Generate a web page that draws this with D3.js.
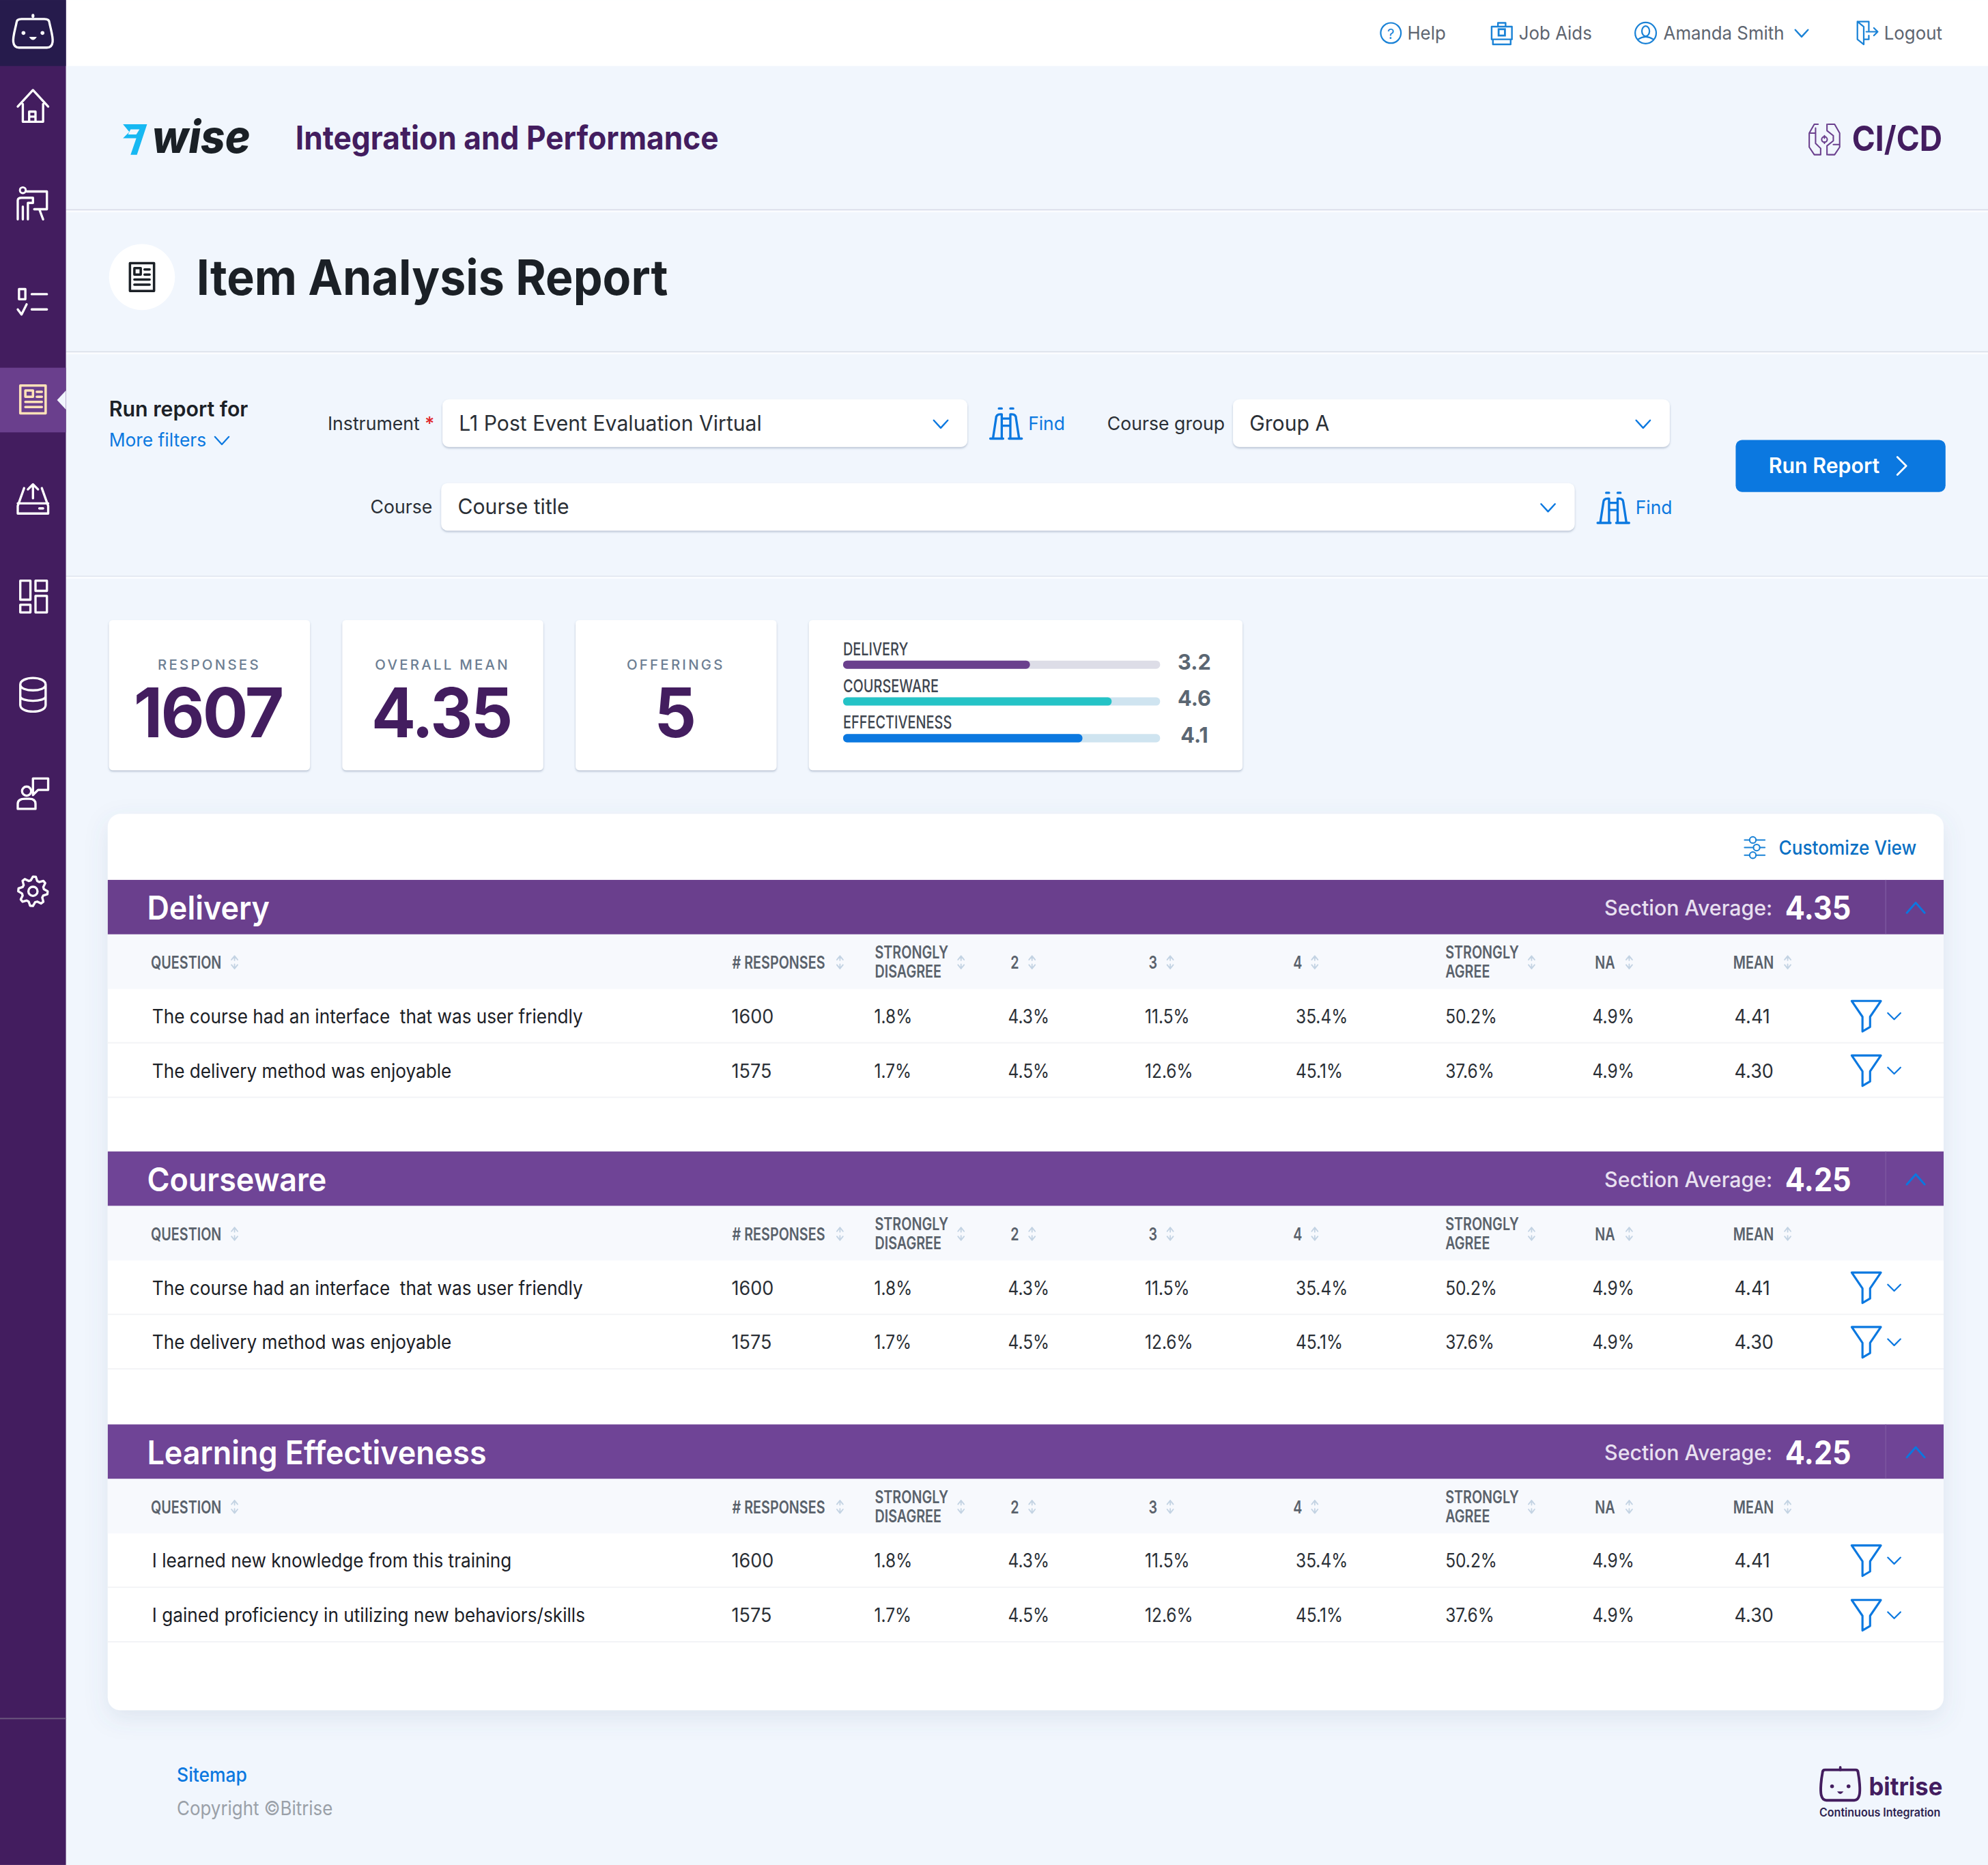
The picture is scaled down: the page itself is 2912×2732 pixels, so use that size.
<!DOCTYPE html>
<html><head><meta charset="utf-8">
<script src="https://cdn.jsdelivr.net/npm/d3@7/dist/d3.min.js"></script>
<style>
html,body{margin:0;padding:0;background:#f1f6fd;overflow:hidden}
svg{display:block}
text{font-family:Inter,"Noto Sans",sans-serif;white-space:pre}
</style></head><body>
<script>
// ---- data ----
const summaryLabels = ["RESPONSES","OVERALL MEAN","OFFERINGS"];
const summaryValues = ["1607","4.35","5"];
const scoreLabels = ["DELIVERY","COURSEWARE","EFFECTIVENESS"];
const scoreValues = [3.2,4.6,4.1];
const sectionTitles = ["Delivery","Courseware","Learning Effectiveness"];
const sectionAverages = [4.35,4.25,4.25];
const columnKeys = ["question","responses","sd","c2","c3","c4","sa","na","mean"];
const columnHeads = [["QUESTION"],["# RESPONSES"],["STRONGLY","DISAGREE"],["2"],["3"],["4"],["STRONGLY","AGREE"],["NA"],["MEAN"]];
const questionsDelivery = ["The course had an interface  that was user friendly","The delivery method was enjoyable"];
const questionsCourseware = ["The course had an interface  that was user friendly","The delivery method was enjoyable"];
const questionsLearning = ["I learned new knowledge from this training","I gained proficiency in utilizing new behaviors/skills"];
const rowResponses = [1600,1575];
const rowSD = [1.8,1.7];
const rowC2 = [4.3,4.5];
const rowC3 = [11.5,12.6];
const rowC4 = [35.4,45.1];
const rowSA = [50.2,37.6];
const rowNA = [4.9,4.9];
const rowMean = [4.41,4.30];
const navLabels = ["Help","Job Aids","Amanda Smith","Logout"];

// ---- palette ----
const PURPLE="#6a3f8d",DEEP="#431d5f",BLUE="#0b78e0",INK="#1b2026";

const svg=d3.select("body").append("svg").attr("width",2912).attr("height",2732).attr("viewBox","0 0 1568 1471");
const defs=svg.append("defs");
const shadow=(id,dy,b,o)=>{const f=defs.append("filter").attr("id",id).attr("x","-10%").attr("y","-10%").attr("width","120%").attr("height","125%");
  f.append("feDropShadow").attr("dx",0).attr("dy",dy).attr("stdDeviation",b).attr("flood-color","#5a6f90").attr("flood-opacity",o);};
shadow("sSmall",1,1,.4);shadow("sBig",6,9,.13);

function T(p,x,y,s,size,weight,fill,opt={}){
  const t=p.append("text").attr("x",x).attr("y",y).text(s).attr("font-size",size).attr("font-weight",weight).attr("fill",fill)
    .attr("text-anchor",opt.anchor||"start");
  if(opt.ls!==undefined)t.attr("letter-spacing",opt.ls);
  if(opt.italic)t.attr("font-style","italic");
  if(opt.squeeze){const n=t.node();const l=n.getComputedTextLength();n.setAttribute("textLength",l*opt.squeeze);n.setAttribute("lengthAdjust","spacingAndGlyphs");}
  return t;
}
function R(p,x,y,w,h,fill,rx=0,filter){const r=p.append("rect").attr("x",x).attr("y",y).attr("width",w).attr("height",h).attr("fill",fill).attr("rx",rx);if(filter)r.attr("filter",`url(#${filter})`);return r;}
function I(p,x,y,d,stroke,sw=1.5,k=1){return p.append("path").attr("transform",`translate(${x},${y}) scale(${k})`).attr("d",d).attr("fill","none").attr("stroke",stroke).attr("stroke-width",sw).attr("stroke-linecap","round").attr("stroke-linejoin","round");}
const chevDown="M-5.5,-3L0,3L5.5,-3";

// ---- page ----
R(svg,0,0,1568,1471,"#f1f6fd");
R(svg,52,0,1516,52,"#ffffff");
[[165,"#d9dbe8"],[277,"#dcdfe9"],[454,"#e3e8f1"]].forEach(([y,c])=>{R(svg,52,y,1516,1,c);R(svg,52,y+1,1516,1.4,"#fbfcff");});

// ---- sidebar ----
R(svg,0,0,52,1471,DEEP);
R(svg,0,0,52,52,"#261b4c");
R(svg,0,290,52,51,PURPLE);
svg.append("path").attr("d","M52,308L45,315.5L52,323Z").attr("fill","#f1f6fd");
R(svg,0,1355,52,1,"#6d5a80");
const W="#ffffff";
// bot
I(svg,26,26,"M-13,-8Q-13,-11 -9,-11L9,-11Q13,-11 13,-8C14,-3 16,3 15.5,7Q15,11.5 11,11.5L-11,11.5Q-15,11.5 -15.5,7C-16,3 -14,-3 -13,-8Z",W,1.8);
I(svg,26,26,"M0,-14L0,-13",W,2.2);
svg.append("circle").attr("cx",18.5).attr("cy",26).attr("r",1.5).attr("fill",W);
svg.append("circle").attr("cx",33.5).attr("cy",26).attr("r",1.5).attr("fill",W);
svg.append("path").attr("d","M23,29h6q-3,5 -6,0Z").attr("fill",W);
// home
I(svg,26,84,"M-12,0L0,-13L12,0M-8,-2L-8,12L8,12L8,-2M-3,12L-3,4L2,4L2,12M2,8h-5",W,1.8);
// presenter
I(svg,26,160,"M-5,-9L11,-9L11,5L1,5M-12,-2Q-12,-4 -9,-4L0,-4L0,0L-4,0L-4,13M-12,-2L-12,13M-8,3L-8,13M5,5L8,13",W,1.8);
svg.append("circle").attr("cx",18).attr("cy",150).attr("r",2.3).attr("fill","none").attr("stroke",W).attr("stroke-width",1.6);
// checklist
I(svg,26,237,"M-11,-9h5v8h-5ZM-1,-5H11M-12,7L-9,11L-5,3M-1,7H11",W,1.8);
// report (active)
I(svg,26,315,"M-10,-11H10V11H-10ZM-6,-7H0V-2H-6ZM3,-6H7M3,-2H7M-6,2H7M-6,6H7",'#ffe2b8',1.9);
// tray
I(svg,26,394,"M-7,-9L-12,5V11H12V5L7,-9M-12,3H12M0,-12V-1M-4,-8L0,-12L4,-8M5,7H8",W,1.8);
// dashboard
I(svg,26,470,"M-10,-12H-2V3H-10ZM2,-12H11V-4H2ZM-10,7H-2V13H-10ZM2,0H11V13H2Z",W,1.8);
// database
I(svg,26,548,"M-10,-8C-10,-15 10,-15 10,-8V8C10,15 -10,15 -10,8ZM-10,-8C-10,-2 10,-2 10,-8M-10,1C-10,6 10,6 10,1",W,1.8);
// speaker
I(svg,26,626,"M-12,12V8Q-12,4 -6,4H-3Q2,4 2,8V12ZM0,-12H12V-3H4L0,1Z",W,1.8);
svg.append("circle").attr("cx",21).attr("cy",624).attr("r",3.6).attr("fill","none").attr("stroke",W).attr("stroke-width",1.8);
// gear
{const pts=d3.range(32).map(i=>{const m=i%4;return [i/32*2*Math.PI,(m<2)?11.6:8.8];});
 svg.append("path").attr("transform","translate(26,703)").attr("d",d3.lineRadial().curve(d3.curveLinearClosed)(pts)).attr("fill","none").attr("stroke",W).attr("stroke-width",1.8).attr("stroke-linejoin","round");
 svg.append("circle").attr("cx",26).attr("cy",703).attr("r",3.6).attr("fill","none").attr("stroke",W).attr("stroke-width",1.8);}

// ---- top nav ----
const nav=svg.append("g");
const navX=d3.scaleOrdinal().domain(navLabels).range([1110,1198,1312,1486]);
navLabels.forEach(l=>T(nav,navX(l),31,l,14.5,400,"#5e6570",{squeeze:.96}));
const NB="#1a82d6";
nav.append("circle").attr("cx",1097).attr("cy",26).attr("r",8).attr("fill","none").attr("stroke",NB).attr("stroke-width",1.2);
T(nav,1097,30.5,"?",11,400,NB,{anchor:"middle"});
I(nav,1184.5,26,"M-8,-5H8V5H-8ZM-3,-5V-8H3V-5M-7,5V9H7V5",NB,1.3);
nav.append("rect").attr("x",1182).attr("y",23).attr("width",5).attr("height",5).attr("fill","none").attr("stroke",NB).attr("stroke-width",1.5);
nav.append("circle").attr("cx",1298).attr("cy",26).attr("r",8.3).attr("fill","none").attr("stroke",NB).attr("stroke-width",1.2);
nav.append("ellipse").attr("cx",1298).attr("cy",24.5).attr("rx",3).attr("ry",4).attr("fill","none").attr("stroke",NB).attr("stroke-width",1.2);
I(nav,1298,26,"M-6,5Q0,1 6,5",NB,1.2);
I(nav,1421,26.5,"M-5,-3L0,2.5L5,-3",NB,1.3);
I(nav,1472,26,"M-7,-9H2V-2M-7,-9V5L-2,9V-5L-7,-9M2,2V5H-2M0,-1H9M6,-4L9,-1L6,2",NB,1.2);

// ---- branding ----
svg.append("path").attr("d","M97,98L116,98L108,122L103,122L107.5,109L97,109L102,104L97,98Z").attr("fill","#17b8f2");
svg.append("path").attr("d","M103,102L110,102L107.5,106L101,106Z").attr("fill","#f1f6fd");
T(svg,120,120.5,"wise",36,800,"#1a2026",{italic:true,squeeze:.93});
T(svg,233,118,"Integration and Performance",26,700,DEEP,{squeeze:.917});
T(svg,1532,119,"CI/CD",27,700,DEEP,{anchor:"end",squeeze:.92});
I(svg,1439,110,"M-5,-12H-8L-12,-5V6L-8,12H-3M3,-12H8L12,-5V6L8,12H3M-7,-9V3L-3,7V12M2,-12V-7L7,-3V1L2,5V12M-7,-5h-4M7,4h5M0,-3V-1M0,3V2",'#6a3f8d',1.1);
svg.append("circle").attr("cx",1439).attr("cy",110).attr("r",2.2).attr("fill","none").attr("stroke","#6a3f8d").attr("stroke-width",1.1);

// ---- page title ----
svg.append("circle").attr("cx",112).attr("cy",218.5).attr("r",26).attr("fill","#ffffff");
I(svg,112,218.5,"M-9.5,-11H9.5V11H-9.5ZM-6,-7H-1V-2H-6ZM2,-6H6M2,-2H6M-6,2H6M-6,6H6",INK,1.9);
T(svg,155,232.5,"Item Analysis Report",38.5,700,INK,{squeeze:.953});

// ---- filters ----
T(svg,86,328.5,"Run report for",16.5,600,INK,{squeeze:.99});
T(svg,86,352,"More filters",14.5,400,BLUE,{squeeze:.98});
I(svg,175,347.5,chevDown,BLUE,1.2);
function field(x,y,w,label,value,lx){
  T(svg,lx,y+24,label,14.5,400,"#2a2f36",{anchor:"end",squeeze:.99});
  R(svg,x,y,w,37.5,"#ffffff",5,"sSmall");
  T(svg,x+13,y+24.5,value,16.5,400,"#2a2f36",{squeeze:.985});
  I(svg,x+w-21,y+19.5,chevDown,BLUE,1.3);
}
field(349,315,414,"Instrument","L1 Post Event Evaluation Virtual",331);
T(svg,335,339,"*",14.5,500,"#e0262b");
field(972.5,315,344.5,"Course group","Group A",966);
field(348,381,894,"Course","Course title",341);
function find(x,y){
  const d="M-11,11H-2M2,11H11M-9,10L-7,-3Q-7,-6 -4,-6H-3V10M3,10V-6H4Q7,-6 7,-3L9,10M-3,-3H3M-3,2H3M-5,-10H-3M3,-10H5";
  I(svg,x,y,d,BLUE,1.6,1.13);
  T(svg,x+17.5,y+5.5,"Find",14.5,400,BLUE,{squeeze:.98});
}
find(793.5,333.5);find(1272.5,400);
R(svg,1369,347,165.5,41,BLUE,5);
T(svg,1395,373,"Run Report",16.5,600,"#ffffff",{squeeze:.99});
I(svg,1500,367.5,"M-3.5,-7L3.5,0L-3.5,7","#ffffff",1.5);

// ---- summary cards ----
const cardX=d3.scaleOrdinal().domain(summaryLabels).range([86,270,454]);
summaryLabels.forEach((l,i)=>{
  const x=cardX(l);
  R(svg,x,489,158.5,118.5,"#ffffff",3,"sSmall");
  T(svg,x+79,528,l,11,500,"#6c7e93",{anchor:"middle",ls:1.75});
  T(svg,x+78,581.5,summaryValues[i],54,700,DEEP,{anchor:"middle",ls:-1.5,squeeze:i?.96:.985});
});
R(svg,638,489,342,118.5,"#ffffff",3,"sSmall");
const barW=d3.scaleLinear().domain([0,5.43]).range([0,250]);
const scoreY=d3.scalePoint().domain(scoreLabels).range([521,579]);
const scoreFill=d3.scaleOrdinal().domain(scoreLabels).range([PURPLE,"#24c3c6",BLUE]);
const scoreTrack=d3.scaleOrdinal().domain(scoreLabels).range(["#dddde7","#cfe4f0","#cfe4f0"]);
const sg=svg.append("g");
sg.selectAll("rect.track").data(scoreLabels).join("rect").attr("class","track").attr("x",665).attr("y",d=>scoreY(d)).attr("width",barW(5.43)).attr("height",6.5).attr("rx",3).attr("fill",d=>scoreTrack(d));
sg.selectAll("rect.fill").data(scoreLabels).join("rect").attr("class","fill").attr("x",665).attr("y",d=>scoreY(d)).attr("width",(d,i)=>barW(scoreValues[i])).attr("height",6.5).attr("rx",3).attr("fill",d=>scoreFill(d));
scoreLabels.forEach((l,i)=>{
  T(sg,665,scoreY(l)-4.3,l,14,500,"#3f4650",{squeeze:.765});
  T(sg,942,scoreY(l)+7,scoreValues[i].toFixed(1),17,700,"#5b6672",{anchor:"middle",squeeze:.97});
});

// ---- main table card ----
R(svg,85,642,1448,707,"#ffffff",10,"sBig");
T(svg,1403,674,"Customize View",15,500,"#0a70c4",{squeeze:.94});
I(svg,1384,668.5,"M-8,-6H-4M1,-6H8M-8,0H-1M4,0H8M-8,6H-4M1,6H8",'#1a82d6',1.1);
[[-1.5,-6],[1.5,0],[-1.5,6]].forEach(([dx,dy])=>svg.append("circle").attr("cx",1384+dx).attr("cy",668.5+dy).attr("r",2.5).attr("fill","none").attr("stroke","#1a82d6").attr("stroke-width",1.1));

const sectionY=d3.scaleOrdinal().domain(sectionTitles).range([694,908.2,1123.5]);
const headX=d3.scaleOrdinal().domain(columnKeys).range([119,577.5,690,797,906,1020,1140,1258,1367]);
const cellX=d3.scaleOrdinal().domain(columnKeys).range([120,577,689.5,795,903,1022,1140,1256,1368]);
const sortX=d3.scaleOrdinal().domain(columnKeys).range([185,662.5,758,814,923,1037,1208,1285,1410]);
const sectionQuestions=[questionsDelivery,questionsCourseware,questionsLearning];
const pct=v=>d3.format(".1f")(v)+"%";

sectionTitles.forEach((title,si)=>{
  const y=sectionY(title);
  const g=svg.append("g");
  R(g,85,y,1448,43,si?"#6f4496":PURPLE);
  R(g,1487,y,.7,43,"#7f5aa2");
  T(g,116,y+31.5,title,26,600,"#ffffff",{squeeze:.93});
  T(g,1398,y+28,"Section Average:",16.5,500,"#e8e0f0",{anchor:"end",squeeze:.99});
  T(g,1408,y+31.5,sectionAverages[si].toFixed(2),25.5,700,"#ffffff",{squeeze:.91});
  I(g,1511,y+22,"M-7,4L0,-4L7,4",BLUE,1.6);
  R(g,85,y+43,1448,43,"#f7f9fd");
  columnKeys.forEach((k,ci)=>{
    const lines=columnHeads[ci];
    lines.forEach((ln,li)=>T(g,headX(k),y+(lines.length>1?62+li*15:70),ln,14,600,"#5a626c",{squeeze:.76}));
    const sx=sortX(k),sy=y+65;
    I(g,sx,sy,"M-2.4,-2L0,-5L2.4,-2M0,-5V-1.5","#c3d3e3",1);
    I(g,sx,sy,"M-2.4,2L0,5L2.4,2M0,5V1.5","#c3d3e3",1);
  });
  const rowCols=[rowResponses,rowSD,rowC2,rowC3,rowC4,rowSA,rowNA,rowMean];
  const fmts=[String,pct,pct,pct,pct,pct,pct,v=>v.toFixed(2)];
  sectionQuestions[si].forEach((q,ri)=>{
    const ry=y+86+ri*43;
    T(g,cellX("question"),ry+27,q,15,400,INK,{squeeze:.94});
    rowCols.forEach((col,ci)=>T(g,cellX(columnKeys[ci+1]),ry+27,fmts[ci](col[ri]),15,400,"#2a2f36",{squeeze:ci>=1&&ci<=6?.88:.97}));
    R(g,85,ry+42,1448,1,"#f2f3f6");
    I(g,1472,ry+21,"M-11.5,-11.5H11.5L3,1V9L-3,12.5V1Z",BLUE,1.7);
    I(g,1494,ry+21.5,"M-5,-2.5L0,2.5L5,-2.5",BLUE,1.2);
  });
});

// ---- footer ----
T(svg,139.5,1405.5,"Sitemap",15,500,BLUE,{squeeze:.95});
T(svg,139.5,1431.5,"Copyright ©Bitrise",15,400,"#9aa0a8",{squeeze:.93});
I(svg,1451.5,1408,"M-14,-10Q-14,-12 -12,-12H12Q14,-12 14,-10C15,-5 16,4 15,8Q14,12 11,12H-11Q-14,12 -15,8C-16,4 -15,-5 -14,-10Z",DEEP,2.1);
I(svg,1451.5,1395,"M0,-1V1",DEEP,2);
svg.append("circle").attr("cx",1445).attr("cy",1409).attr("r",1.5).attr("fill",DEEP);
svg.append("circle").attr("cx",1458).attr("cy",1409).attr("r",1.5).attr("fill",DEEP);
svg.append("path").attr("d","M1449,1413h5q-2.5,4 -5,0Z").attr("fill",DEEP);
T(svg,1474,1416,"bitrise",20,700,DEEP,{squeeze:.935});
T(svg,1435,1433,"Continuous Integration",9,600,"#2e2350",{squeeze:.96});
</script>
</body></html>
